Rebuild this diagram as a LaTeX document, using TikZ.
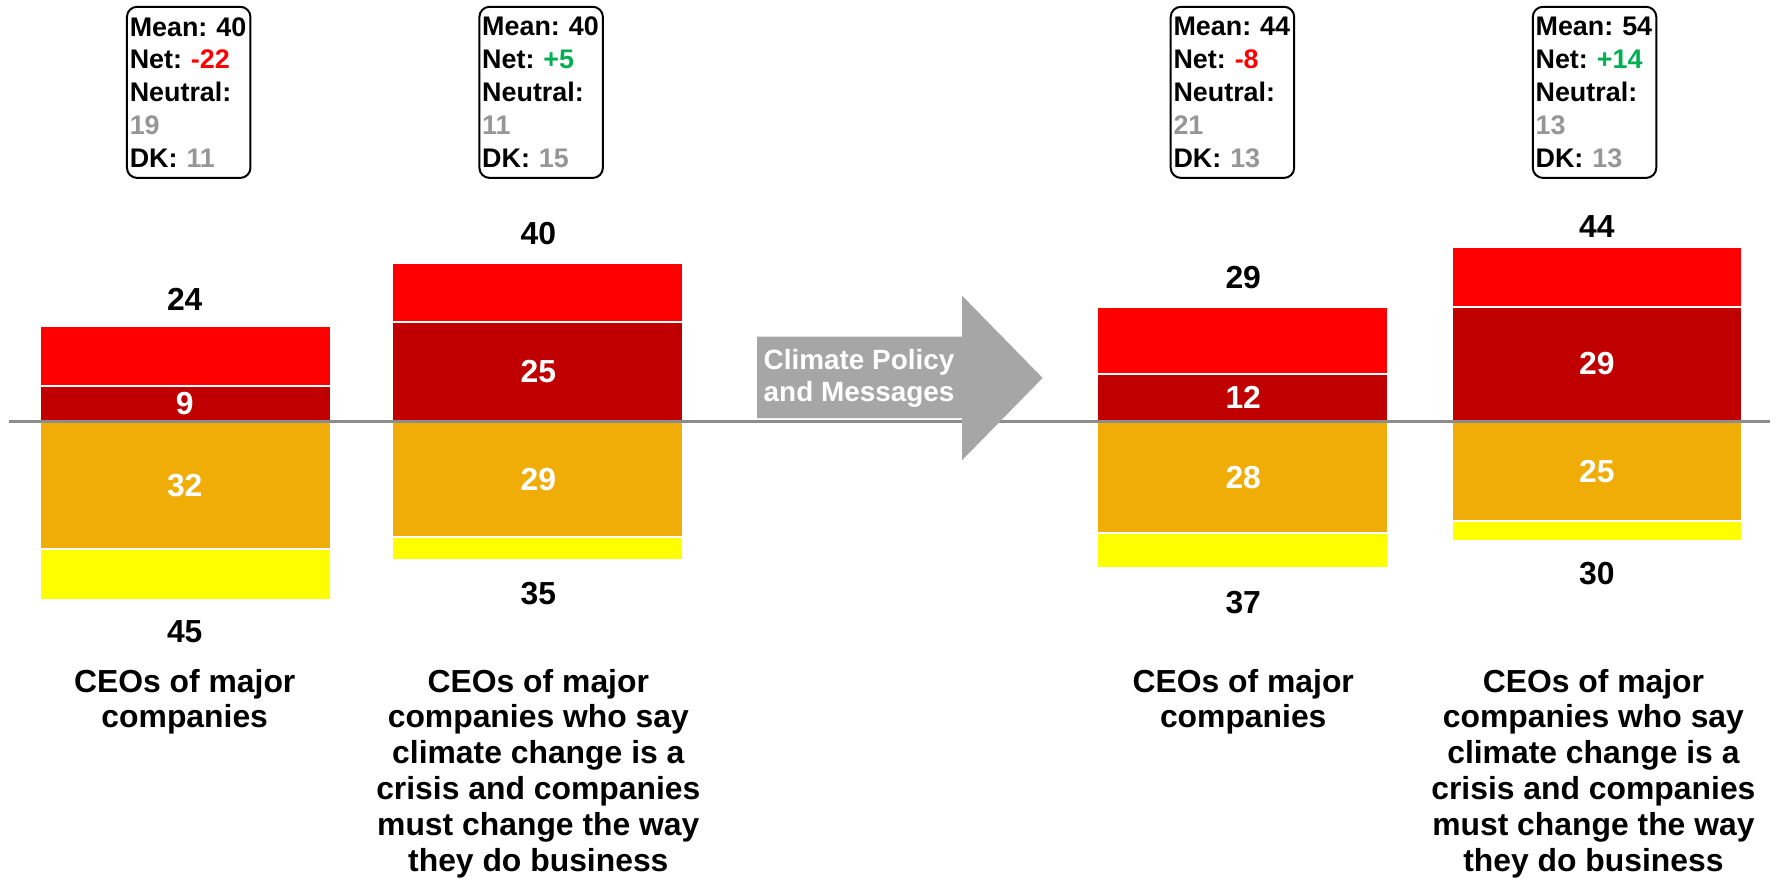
\documentclass[tikz,border=0pt]{standalone}
\usepackage{fontspec}
\setmainfont{Liberation Sans}
\usepackage{xcolor}
\usepackage{tikz}
\frenchspacing

\definecolor{topred}{RGB}{255,0,0}
\definecolor{deepred}{RGB}{192,0,0}
\definecolor{amber}{RGB}{240,173,8}
\definecolor{lemon}{RGB}{255,255,0}
\definecolor{axisgray}{RGB}{140,140,140}
\definecolor{arrowgray}{RGB}{166,166,166}
\definecolor{numgray}{RGB}{150,150,150}
\definecolor{posgreen}{RGB}{0,176,80}

\tikzset{
    seg/.style={draw=white,line width=1pt},
    num/.style={font=\fontsize{16}{18}\selectfont\bfseries,inner sep=0pt},
    inum/.style={num,text=white},
    group/.style={font=\fontsize{16}{18}\selectfont\bfseries,align=center,anchor=north,inner sep=0pt},
    infobox/.style={draw,line width=1pt,rounded corners=0.18cm,minimum height=3.02cm,
        text width=2.08cm,inner xsep=0.05cm,align=left,
        font=\fontsize{13.5}{16.5}\selectfont\bfseries}
}

\begin{document}
\begin{tikzpicture}[x=0.2mm,y=-0.2mm]
    \useasboundingbox (0,0) rectangle (1568,776);

    % stacked bars, one unit = one percent
    \begin{scope}[shift={(0,372)},y=0.7mm]
        \path[seg,fill=topred] (35,9) rectangle (292,24);
        \path[seg,fill=deepred] (35,0) rectangle (292,9);
        \path[seg,fill=amber] (35,0) rectangle (292,-32);
        \path[seg,fill=lemon] (35,-32) rectangle (292,-45);

        \path[seg,fill=topred] (346,25) rectangle (603,40);
        \path[seg,fill=deepred] (346,0) rectangle (603,25);
        \path[seg,fill=amber] (346,0) rectangle (603,-29);
        \path[seg,fill=lemon] (346,-29) rectangle (603,-35);

        \path[seg,fill=topred] (968,12) rectangle (1225,29);
        \path[seg,fill=deepred] (968,0) rectangle (1225,12);
        \path[seg,fill=amber] (968,0) rectangle (1225,-28);
        \path[seg,fill=lemon] (968,-28) rectangle (1225,-37);

        \path[seg,fill=topred] (1281,29) rectangle (1537,44);
        \path[seg,fill=deepred] (1281,0) rectangle (1537,29);
        \path[seg,fill=amber] (1281,0) rectangle (1537,-25);
        \path[seg,fill=lemon] (1281,-25) rectangle (1537,-30);
    \end{scope}

    \coordinate (axisL) at (8,372);
    \coordinate (axisR) at (1562,372);
    \draw[axisgray,line width=1.2pt] (axisL) -- (axisR);

    % the arrow in the middle
    \fill[arrowgray] (668,297) -- (849,297) -- (849,261) -- (920,333.5)
        -- (849,406) -- (849,369) -- (668,369) -- cycle;
    \node[font=\fontsize{14}{16}\selectfont\bfseries,text=white,align=center] (policy)
        at (758,334) {Climate Policy\\and Messages};

    % numbers above and below
    \node[num] (top1) at (163,264) {24};
    \node[num] (bot1) at (163,557) {45};
    \node[num] (top2) at (475,206) {40};
    \node[num] (bot2) at (475,524) {35};
    \node[num] (top3) at (1097,245) {29};
    \node[num] (bot3) at (1097,532) {37};
    \node[num] (top4) at (1409,200) {44};
    \node[num] (bot4) at (1409,506) {30};

    % numbers inside
    \node[inum] (in1a) at (163,356) {9};
    \node[inum] (in1b) at (163,428) {32};
    \node[inum] (in2a) at (475,328) {25};
    \node[inum] (in2b) at (475,423) {29};
    \node[inum] (in3a) at (1097,351) {12};
    \node[inum] (in3b) at (1097,421) {28};
    \node[inum] (in4a) at (1409,321) {29};
    \node[inum] (in4b) at (1409,416) {25};

    % boxes on top
    \node[infobox] (box1) at (166.5,81.5) {Mean: 40\\Net: \textcolor{topred}{-22}\\Neutral:\\\textcolor{numgray}{19}\\DK: \textcolor{numgray}{11}};
    \node[infobox] (box2) at (477.5,81.5) {Mean: 40\\Net: \textcolor{posgreen}{+5}\\Neutral:\\\textcolor{numgray}{11}\\DK: \textcolor{numgray}{15}};
    \node[infobox] (box3) at (1087.5,81.5) {Mean: 44\\Net: \textcolor{topred}{-8}\\Neutral:\\\textcolor{numgray}{21}\\DK: \textcolor{numgray}{13}};
    \node[infobox] (box4) at (1407,81.5) {Mean: 54\\Net: \textcolor{posgreen}{+14}\\Neutral:\\\textcolor{numgray}{13}\\DK: \textcolor{numgray}{13}};

    % groups
    \node[group] (grp1) at (163,590) {CEOs of major\\companies};
    \node[group] (grp2) at (475,590) {CEOs of major\\companies who say\\climate change is a\\crisis and companies\\must change the way\\they do business};
    \node[group] (grp3) at (1097,590) {CEOs of major\\companies};
    \node[group] (grp4) at (1406,590) {CEOs of major\\companies who say\\climate change is a\\crisis and companies\\must change the way\\they do business};
\end{tikzpicture}
\end{document}
